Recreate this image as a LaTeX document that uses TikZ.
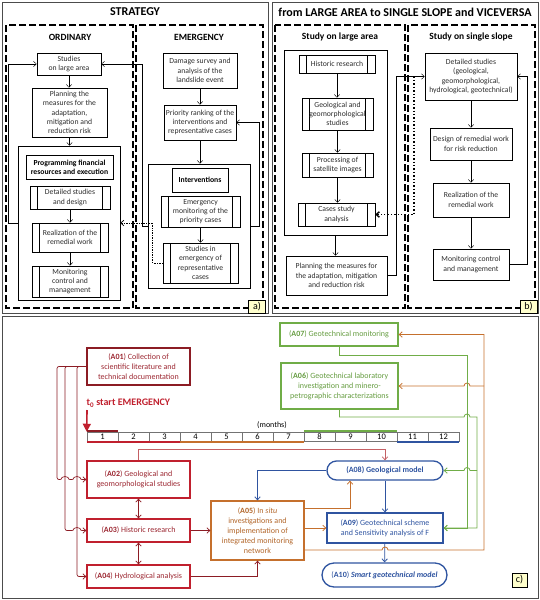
\documentclass[tikz,border=0pt]{standalone}
\usepackage{fontspec}
\setmainfont{Carlito}
\usetikzlibrary{arrows.meta}
\definecolor{dmaroon}{RGB}{140,28,36}
\definecolor{cred}{RGB}{192,32,46}
\definecolor{tred}{RGB}{155,38,48}
\definecolor{corg}{RGB}{197,112,45}
\definecolor{cgrn}{RGB}{112,173,71}
\definecolor{cblu}{RGB}{47,84,160}
\definecolor{cpink}{RGB}{196,96,100}
\definecolor{lyel}{RGB}{255,255,204}
\definecolor{tgray}{RGB}{45,45,45}
\newcommand\fta{\fontsize{7.7}{9.3}\selectfont}
\newcommand\ftc{\fontsize{8}{10}\selectfont}

\begin{document}
\begin{tikzpicture}[x=1pt,y=-1pt,
  >={Straight Barb[length=3pt,width=5.5pt]},
  bx/.style 2 args={draw, inner sep=1pt, align=center, minimum width=#1, minimum height=#2, font=\fta, text=tgray, line width=0.6pt},
  pp/.style={path picture={\draw[line width=0.6pt] ([xshift=7.5pt]path picture bounding box.north west) -- ([xshift=7.5pt]path picture bounding box.south west) ([xshift=-7.5pt]path picture bounding box.north east) -- ([xshift=-7.5pt]path picture bounding box.south east);}},
  frm/.style={draw=black!70, line width=0.9pt},
  dsh/.style={draw, line width=1.3pt, dash pattern=on 7pt off 3pt},
  ttl/.style={font=\fontsize{12}{14}\selectfont\bfseries},
  sub/.style={font=\fontsize{9.5}{11}\selectfont\bfseries},
  lbl/.style={draw, fill=lyel, inner sep=1pt, minimum width=17, minimum height=13, font=\fontsize{10}{11}\selectfont},
  cb/.style={line width=1.3pt, font=\ftc},
  rl/.style={draw=dmaroon, line width=0.7pt},
  og/.style={draw=corg, line width=0.8pt},
  gn/.style={draw=cgrn, line width=0.8pt},
  bl/.style={draw=cblu, line width=0.8pt},
  cell/.style={draw=black!55, line width=0.5pt, minimum width=31, minimum height=9, inner sep=0pt, font=\fontsize{8.5}{9}\selectfont},
  bar/.style={line width=2.2pt}]
  \useasboundingbox (0,0) rectangle (540,600);

  \draw[frm] (2,2) rectangle (268,313);
  \draw[dsh] (6,25) rectangle (133,308);
  \draw[dsh] (136,25) rectangle (263,308);
  \node[ttl] (strat) at (135,12) {STRATEGY};
  \node[sub] (ord) at (70,37) {ORDINARY};
  \node[sub] (emg) at (199,37) {EMERGENCY};

  \node[bx={64}{22}] (stud) at (69,64) {Studies\\on large area};
  \node[bx={75}{49}] (plan) at (69.5,112.5) {Planning the\\measures for the\\adaptation,\\mitigation and\\reduction risk};
  \node[bx={102}{154}] (prog) at (69,223) {};
  \node[bx={87}{24}, font=\fta\bfseries, text=black, line width=1pt] (fin) at (69.5,167) {Programming financial\\resources and execution};
  \node[bx={80}{23}, pp] (det) at (70,197.5) {Detailed studies\\and design};
  \node[bx={76}{29}, pp] (real) at (70,237.5) {Realization of the\\remedial work};
  \node[bx={76}{31}, pp] (mon) at (70,281.5) {Monitoring\\control and\\management};

  \node[bx={74}{35}] (dam) at (200,70.5) {Damage survey and\\analysis of the\\landslide event};
  \node[bx={72}{35}] (prio) at (200,122.5) {Priority ranking of the\\interventions and\\representative cases};
  \node[bx={102}{124}] (intv) at (199,226) {};
  \node[bx={56}{24}, font=\fta\bfseries, text=black, line width=1pt] (int) at (200,180) {Interventions};
  \node[bx={79}{31}, pp] (emon) at (200.5,211.5) {Emergency\\monitoring of the\\priority cases};
  \node[bx={75}{40}, pp] (semg) at (200.5,263) {Studies in\\emergency of\\representative\\cases};
  \node[lbl] (la) at (257,306.5) {a)};

  \draw[->] (stud) -- (stud |- plan.north);
  \draw[->] (plan) -- (plan |- prog.north);
  \draw[->] (det) -- (det |- real.north);
  \draw[->] (real) -- (real |- mon.north);
  \draw[->] (dam) -- (prio);
  \draw[->] (prio) -- (prio |- intv.north);
  \draw[->] (emon) -- (emon |- semg.north);
  \draw[->] (prog.west) -- ++(-10,0) |- (stud.west);
  \draw[->] (intv.west) -- ++(-6,0) |- (stud.east);
  \draw[->] (intv.east) -- ++(9,0) |- (prio.east);
  \draw[->, densely dotted, line width=0.7pt] (semg.west) -- ++(-10,0) |- (prog.east);

  \draw[frm] (272,2) rectangle (538,313);
  \draw[dsh] (275,25) rectangle (405,308);
  \draw[dsh] (408,25) rectangle (535,308);
  \node[ttl] (flarge) at (405,12) {from LARGE AREA to SINGLE SLOPE and VICEVERSA};
  \node[sub] (slarge) at (340,37) {Study on large area};
  \node[sub] (sslope) at (471,37) {Study on single slope};

  \node[bx={103}{185}] (larea) at (335.5,142.5) {};
  \node[bx={76}{18}, pp] (hist) at (337,64) {Historic research};
  \node[bx={71}{32}, pp] (geo) at (337.5,114) {Geological and\\geomorphological\\studies};
  \node[bx={71}{24}, pp] (sat) at (337.5,165) {Processing of\\satellite images};
  \node[bx={77}{23}, pp] (cases) at (336.5,214.5) {Cases study\\analysis};
  \node[bx={101}{39}] (planb) at (336.5,275.5) {Planning the measures for\\the adaptation, mitigation\\and reduction risk};
  \node[bx={92}{47}] (detb) at (471,76.5) {Detailed studies\\(geological,\\geomorphological,\\hydrological, geotechnical)};
  \node[bx={82}{32}] (desb) at (471,144) {Design of remedial work\\for risk reduction};
  \node[bx={76}{34}] (realb) at (471,200) {Realization of the\\remedial work};
  \node[bx={76}{31}] (monb) at (471,264.5) {Monitoring control\\and management};
  \node[lbl] (lb) at (528.5,306.5) {b)};
  \coordinate (dtop) at (414,76.5);

  \draw[->] (hist) -- (hist |- geo.north);
  \draw[->] (geo) -- (geo |- sat.north);
  \draw[->] (sat) -- (sat |- cases.north);
  \draw[->] (larea) -- (larea |- planb.north);
  \draw[->] (detb) -- (desb);
  \draw[->] (desb) -- (realb);
  \draw[->] (realb) -- (monb);
  \draw[->] (planb.east) -- ++(9,0) |- (detb.west);
  \draw[->] (monb.east) -- ++(18,0) |- (detb.east);
  \draw[->, dotted, line width=1.4pt] (dtop) |- (cases.east);

  \draw[frm] (2,316) rectangle (538,598);
  \node[bx={103}{37}, cb, draw=dmaroon, text=tred] (a01) at (138.5,366.5) {(\textbf{A01}) Collection of\\scientific literature and\\technical documentation};
  \node[bx={103}{37}, cb, draw=cred, text=tred] (a02) at (138.5,479.5) {(\textbf{A02}) Geological and\\geomorphological studies};
  \node[bx={103}{23}, cb, draw=cred, text=tred] (a03) at (138.5,530.5) {(\textbf{A03}) Historic research};
  \node[bx={103}{23}, cb, draw=cred, text=tred] (a04) at (138.5,576.5) {(\textbf{A04}) Hydrological analysis};
  \node[bx={93}{59}, cb, draw=corg, text=corg!90!black] (a05) at (257.5,530.5) {(\textbf{A05}) In \textit{situ}\\investigations and\\implementation of\\integrated monitoring\\network};
  \node[bx={117}{46}, cb, draw=cgrn, text=cgrn!90!black] (a06) at (339.5,386) {(\textbf{A06}) Geotechnical laboratory\\investigation and minero-\\petrographic characterizations};
  \node[bx={118}{23}, cb, draw=cgrn, text=cgrn!90!black] (a07) at (339,334.5) {(\textbf{A07}) Geotechnical monitoring};
  \node[bx={116}{19}, cb, draw=cblu, text=cblu, rounded corners=9.5pt, font=\ftc\bfseries] (a08) at (385,470.5) {(A08) Geological model};
  \node[bx={116}{30}, cb, draw=cblu, text=cblu] (a09) at (385,528) {(\textbf{A09}) Geotechnical scheme\\and Sensitivity analysis of F};
  \node[bx={125}{24}, cb, draw=cblu, text=cblu, rounded corners=12pt] (a10) at (384.5,575) {(\textbf{A10}) \textbf{\textit{Smart geotechnical model}}};
  \node[lbl, minimum width=15, minimum height=14] (lc) at (519.5,580) {c)};

  \foreach \i in {1,...,12}
    \node[cell] (m\i) at (71.5+31*\i,436.5) {\i};
  \node[font=\ftc] (months) at (272,425) {(months)};
  \node[anchor=west, text=cred, font=\fontsize{10}{12}\selectfont\bfseries] (t0) at (83,403) {t\textsubscript{0} start EMERGENCY};
  \coordinate (t0a) at (87,410);
  \draw[-{Triangle[length=8pt,width=8pt]}, line width=1.6pt, cred] (t0a) -- (m1.north west);
  \draw[bar, dmaroon] ([yshift=1pt]m1.north west) -- ([yshift=1pt]m1.north east);
  \draw[bar, cgrn] ([yshift=1pt]m8.north west) -- ([yshift=1pt]m10.north east);
  \draw[bar, cred] ([yshift=-1pt]m1.south west) -- ([yshift=-1pt]m3.south east);
  \draw[bar, corg] ([yshift=-1pt]m4.south west) -- ([yshift=-1pt]m7.south east);
  \draw[bar, cblu] ([yshift=-1pt]m11.south west) -- ([yshift=-1pt]m12.south east);

  \draw[->, rl, rounded corners=2pt] (a01.west) -- (57,366.5) -- (57,479.5) -- (62,479.5) arc[start angle=180, end angle=0, radius=3pt] -- (74,479.5) arc[start angle=180, end angle=0, radius=3pt] -- (a02.west);
  \draw[->, rl, rounded corners=2pt] (a01.west) -- (65,366.5) -- (65,530.5) -- (74,530.5) arc[start angle=180, end angle=0, radius=3pt] -- (a03.west);
  \draw[->, rl, rounded corners=2pt] (a01.west) -- (77,366.5) |- (a04.west);
  \draw[<->, rl] (a02) -- (a03);
  \draw[<->, rl] (a03) -- (a04);
  \draw[->, rl] (a03) -- (a05);
  \draw[->, rl] (a04.east) -| (a05.south);
  \draw[->, draw=cpink, line width=0.8pt] (a02.north) -- ++(0,-11) -| (a08.north);
  \draw[->, bl] (a08.west) -| (a05.north);
  \draw[->, og] ([yshift=22.5pt]a05.east) -| ([xshift=-35pt]a08.south);
  \draw[->, bl] (a08) -- (a09);
  \draw[->, og] (a05.east |- a09.west) -- (a09.west);
  \draw[->, bl] (a09) -- (a10);
  \draw[->, og] ([yshift=-19.5pt]a05.east) -- (382,550) arc[start angle=180, end angle=0, radius=3pt] -- (484,550) |- (a07.east);
  \draw[->, og] (484,386) -- (470,386) arc[start angle=0, end angle=180, radius=3pt] -- (a06.east);
  \draw[->, gn] (a07.south) -- (339,355) -- (467,355) |- (a09.east);
  \draw[->, gn] (a06.south) -- (339.5,417) -- (464,417) arc[start angle=180, end angle=0, radius=3pt] -- (477,417) |- (a09.east);
  \draw[->, gn] (477,470.5) -- (470,470.5) arc[start angle=0, end angle=180, radius=3pt] -- (a08.east);
\end{tikzpicture}
\end{document}
